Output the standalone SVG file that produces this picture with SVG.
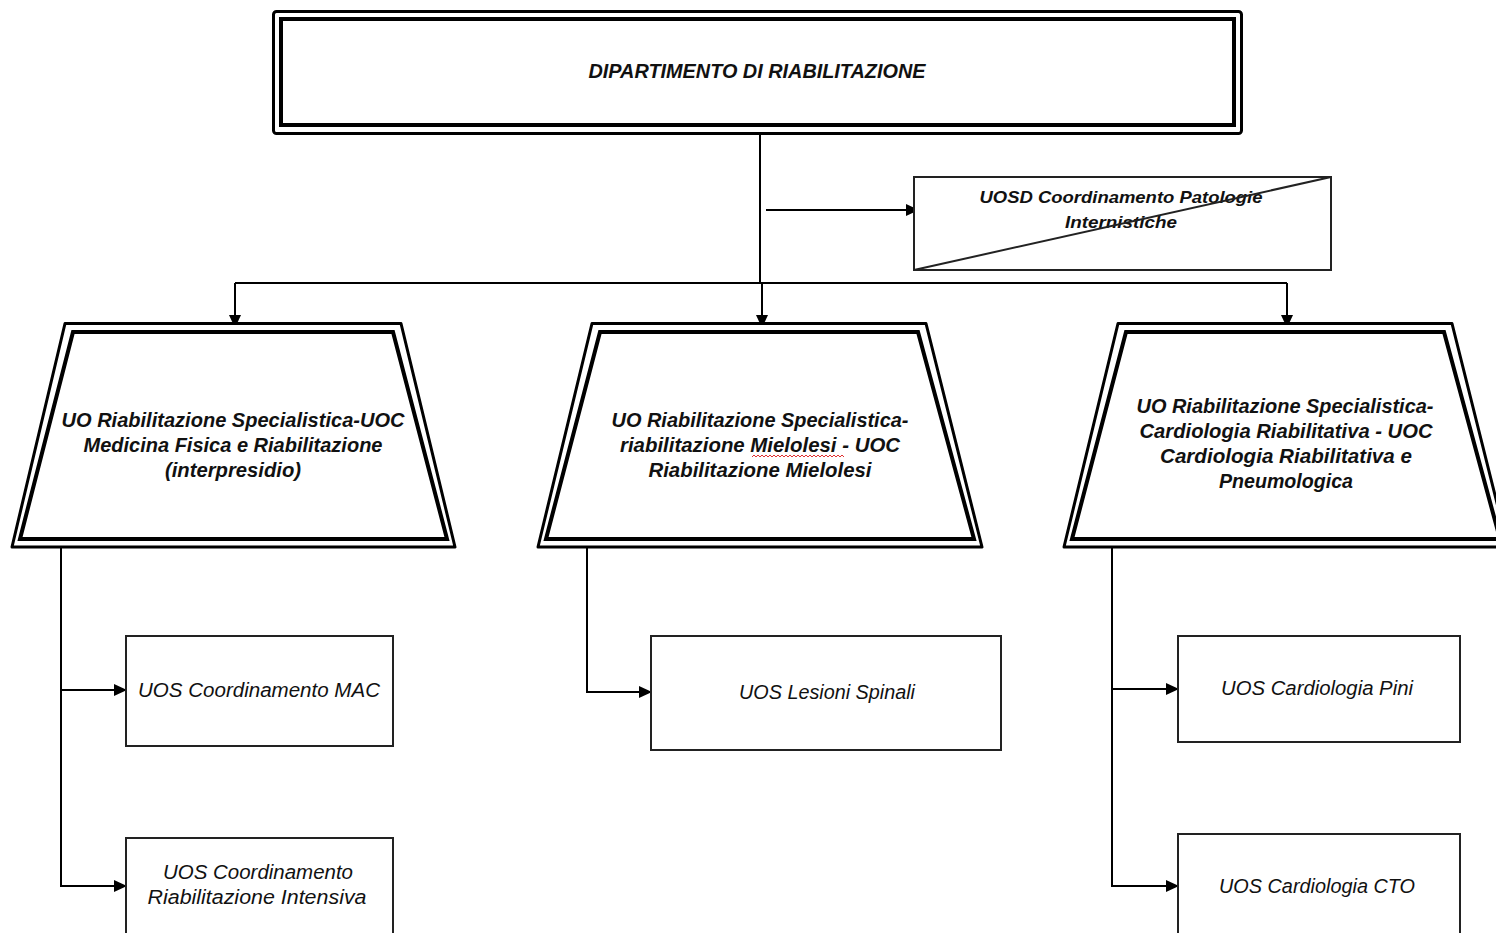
<svg xmlns="http://www.w3.org/2000/svg" width="1496" height="933" viewBox="0 0 1496 933">
<defs>
<marker id="arr" markerUnits="userSpaceOnUse" markerWidth="13" markerHeight="12" refX="12" refY="6" orient="auto">
<path d="M0,0 L13,6 L0,12 Z" fill="#000"/>
</marker>
<style>
.t{font-family:"Liberation Sans",Arial,sans-serif;font-style:italic;fill:#111;text-anchor:middle}
.b{font-weight:bold}
.ln{fill:none;stroke:#000;stroke-width:2}
.box{fill:#fff;stroke:#222;stroke-width:2}
.o{fill:#fff;stroke:#000;stroke-width:3;stroke-linejoin:round}
.i{fill:none;stroke:#000;stroke-width:4;stroke-linejoin:miter}
</style>
</defs>
<rect width="1496" height="933" fill="#fff"/>

<g id="connectors">
<line class="ln" x1="760" y1="133" x2="760" y2="284"/>
<line class="ln" x1="235" y1="283" x2="1287" y2="283"/>
<line class="ln" x1="235" y1="283" x2="235" y2="327" marker-end="url(#arr)"/>
<line class="ln" x1="762" y1="283" x2="762" y2="327" marker-end="url(#arr)"/>
<line class="ln" x1="1287" y1="283" x2="1287" y2="327" marker-end="url(#arr)"/>
<line class="ln" x1="766" y1="210" x2="918" y2="210" marker-end="url(#arr)"/>
<polyline class="ln" points="61,547 61,886"/>
<line class="ln" x1="60" y1="690" x2="126" y2="690" marker-end="url(#arr)"/>
<line class="ln" x1="60" y1="886" x2="126" y2="886" marker-end="url(#arr)"/>
<polyline class="ln" points="587,547 587,692 651,692" marker-end="url(#arr)"/>
<polyline class="ln" points="1112,547 1112,886"/>
<line class="ln" x1="1111" y1="689" x2="1178" y2="689" marker-end="url(#arr)"/>
<line class="ln" x1="1111" y1="886" x2="1178" y2="886" marker-end="url(#arr)"/>
</g>

<g id="dipartimento">
<rect class="o" x="273.5" y="11.5" width="968" height="122" rx="3"/>
<rect class="i" x="281" y="19" width="953" height="106"/>
<text class="t b" x="757" y="78" font-size="20" textLength="337" lengthAdjust="spacingAndGlyphs">DIPARTIMENTO DI RIABILITAZIONE</text>
</g>

<g id="uosd">
<rect class="box" x="914" y="177" width="417" height="93"/>
<text class="t b" x="1121" y="203" font-size="17" textLength="283" lengthAdjust="spacingAndGlyphs">UOSD Coordinamento Patologie</text>
<text class="t b" x="1121" y="228" font-size="17" textLength="112" lengthAdjust="spacingAndGlyphs">Internistiche</text>
<line x1="914" y1="270" x2="1331" y2="177" stroke="#222" stroke-width="2"/>
</g>

<g id="uo1">
<polygon class="o" points="65,323.5 401,323.5 455,547 12,547"/>
<polygon class="i" points="73,332 393,332 447,539 20,539"/>
<text class="t b" x="233" y="427" font-size="20" textLength="343" lengthAdjust="spacingAndGlyphs">UO Riabilitazione  Specialistica-UOC</text>
<text class="t b" x="233" y="452" font-size="20" textLength="299" lengthAdjust="spacingAndGlyphs">Medicina  Fisica e Riabilitazione</text>
<text class="t b" x="233" y="477" font-size="20" textLength="136" lengthAdjust="spacingAndGlyphs">(interpresidio)</text>
</g>

<g id="uo2">
<polygon class="o" points="592,323.5 926,323.5 982,547 538,547"/>
<polygon class="i" points="600,332 918,332 974,539 546,539"/>
<text class="t b" x="760" y="427" font-size="20" textLength="297" lengthAdjust="spacingAndGlyphs">UO Riabilitazione  Specialistica-</text>
<text class="t b" x="760" y="452" font-size="20" textLength="280" lengthAdjust="spacingAndGlyphs">riabilitazione  Mielolesi - UOC</text>
<text class="t b" x="760" y="477" font-size="20" textLength="223" lengthAdjust="spacingAndGlyphs">Riabilitazione Mielolesi</text>
<path d="M752,457 l2,-2 l2,2 l2,-2 l2,2 l2,-2 l2,2 l2,-2 l2,2 l2,-2 l2,2 l2,-2 l2,2 l2,-2 l2,2 l2,-2 l2,2 l2,-2 l2,2 l2,-2 l2,2 l2,-2 l2,2 l2,-2 l2,2 l2,-2 l2,2 l2,-2 l2,2 l2,-2 l2,2 l2,-2 l2,2 l2,-2 l2,2 l2,-2 l2,2 l2,-2 l2,2 l2,-2 l2,2 l2,-2 l2,2 l2,-2 l2,2 l2,-2 l2,2" fill="none" stroke="#e03030" stroke-width="1"/>
</g>

<g id="uo3">
<polygon class="o" points="1118,323.5 1452,323.5 1508,547 1064,547"/>
<polygon class="i" points="1126,332 1444,332 1500,539 1072,539"/>
<text class="t b" x="1285" y="413" font-size="20" textLength="297" lengthAdjust="spacingAndGlyphs">UO Riabilitazione  Specialistica-</text>
<text class="t b" x="1286" y="438" font-size="20" textLength="293" lengthAdjust="spacingAndGlyphs">Cardiologia  Riabilitativa - UOC</text>
<text class="t b" x="1286" y="463" font-size="20" textLength="252" lengthAdjust="spacingAndGlyphs">Cardiologia  Riabilitativa e</text>
<text class="t b" x="1286" y="488" font-size="20" textLength="134" lengthAdjust="spacingAndGlyphs">Pneumologica</text>
</g>

<g id="uos-mac">
<rect class="box" x="126" y="636" width="267" height="110"/>
<text class="t" x="259" y="697" font-size="20" textLength="242" lengthAdjust="spacingAndGlyphs">UOS Coordinamento MAC</text>
</g>

<g id="uos-intensiva">
<rect class="box" x="126" y="838" width="267" height="110"/>
<text class="t" x="258" y="879" font-size="20" textLength="190" lengthAdjust="spacingAndGlyphs">UOS Coordinamento</text>
<text class="t" x="257" y="904" font-size="20" textLength="219" lengthAdjust="spacingAndGlyphs">Riabilitazione Intensiva</text>
</g>

<g id="uos-lesioni">
<rect class="box" x="651" y="636" width="350" height="114"/>
<text class="t" x="827" y="699" font-size="20" textLength="176" lengthAdjust="spacingAndGlyphs">UOS Lesioni Spinali</text>
</g>

<g id="uos-pini">
<rect class="box" x="1178" y="636" width="282" height="106"/>
<text class="t" x="1317" y="695" font-size="20" textLength="192" lengthAdjust="spacingAndGlyphs">UOS Cardiologia Pini</text>
</g>

<g id="uos-cto">
<rect class="box" x="1178" y="834" width="282" height="110"/>
<text class="t" x="1317" y="893" font-size="20" textLength="196" lengthAdjust="spacingAndGlyphs">UOS Cardiologia CTO</text>
</g>
</svg>
